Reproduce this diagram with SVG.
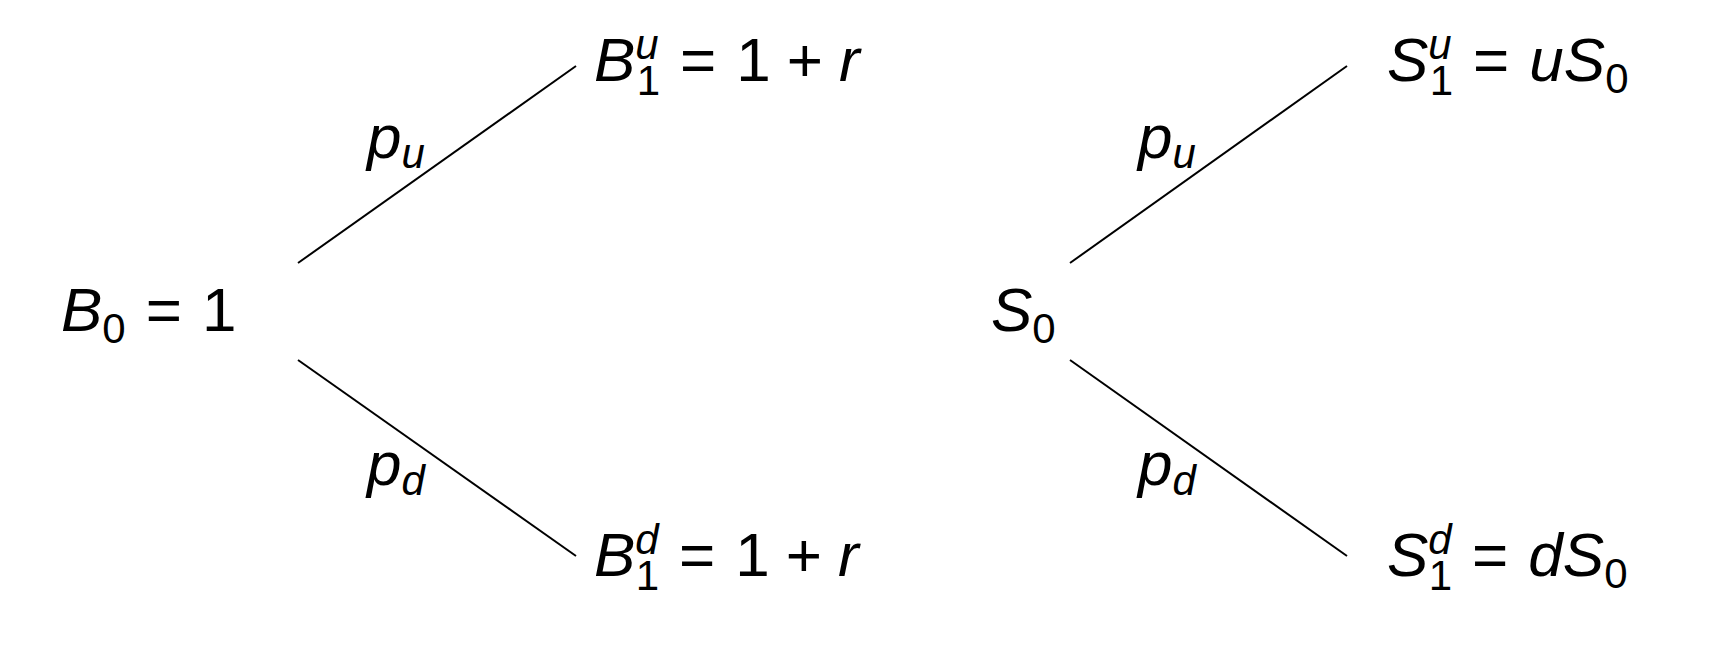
<svg xmlns="http://www.w3.org/2000/svg" width="1732" height="646" viewBox="0 0 1732 646">
<style>
text{font-family:"Liberation Sans",Arial,sans-serif;font-size:62px;fill:#000}
.i{font-style:italic}
.s{font-size:42px}
line{stroke:#000;stroke-width:2}
</style>
<rect width="1732" height="646" fill="#fff"/>
<g id="connectors">
<line x1="298" y1="263" x2="576" y2="66"/>
<line x1="298" y1="360" x2="576" y2="556"/>
<line x1="1070" y1="263" x2="1347" y2="66"/>
<line x1="1070" y1="360" x2="1347" y2="556"/>
</g>
<g id="B0"><text x="61" y="331"><tspan class="i">B</tspan><tspan class="s" dy="12">0</tspan><tspan dx="20" dy="-12">=</tspan><tspan dx="20">1</tspan></text></g>
<g id="B1u"><text x="594" y="81"><tspan class="i">B</tspan><tspan class="s i" dy="-22">u</tspan><tspan class="s" dx="-22" dy="36">1</tspan><tspan dx="20" dy="-14">=</tspan><tspan dx="20">1</tspan><tspan dx="16">+</tspan><tspan class="i" dx="16">r</tspan></text></g>
<g id="B1d"><text x="594" y="576"><tspan class="i">B</tspan><tspan class="s i" dy="-22">d</tspan><tspan class="s" dx="-23" dy="36">1</tspan><tspan dx="20" dy="-14">=</tspan><tspan dx="20">1</tspan><tspan dx="16">+</tspan><tspan class="i" dx="16">r</tspan></text></g>
<g id="S0"><text x="991" y="331"><tspan class="i">S</tspan><tspan class="s" dy="12">0</tspan></text></g>
<g id="S1u"><text x="1387" y="81"><tspan class="i">S</tspan><tspan class="s i" dy="-22">u</tspan><tspan class="s" dx="-22" dy="36">1</tspan><tspan dx="20" dy="-14">=</tspan><tspan class="i" dx="20">uS</tspan><tspan class="s" dy="12">0</tspan></text></g>
<g id="S1d"><text x="1387" y="576"><tspan class="i">S</tspan><tspan class="s i" dy="-22">d</tspan><tspan class="s" dx="-23" dy="36">1</tspan><tspan dx="20" dy="-14">=</tspan><tspan class="i" dx="20">dS</tspan><tspan class="s" dy="12">0</tspan></text></g>
<g id="labels">
<text x="367" y="158" class="i">p<tspan class="s" dy="10">u</tspan></text>
<text x="367" y="485" class="i">p<tspan class="s" dy="10">d</tspan></text>
<text x="1138" y="158" class="i">p<tspan class="s" dy="10">u</tspan></text>
<text x="1138" y="485" class="i">p<tspan class="s" dy="10">d</tspan></text>
</g>
</svg>
